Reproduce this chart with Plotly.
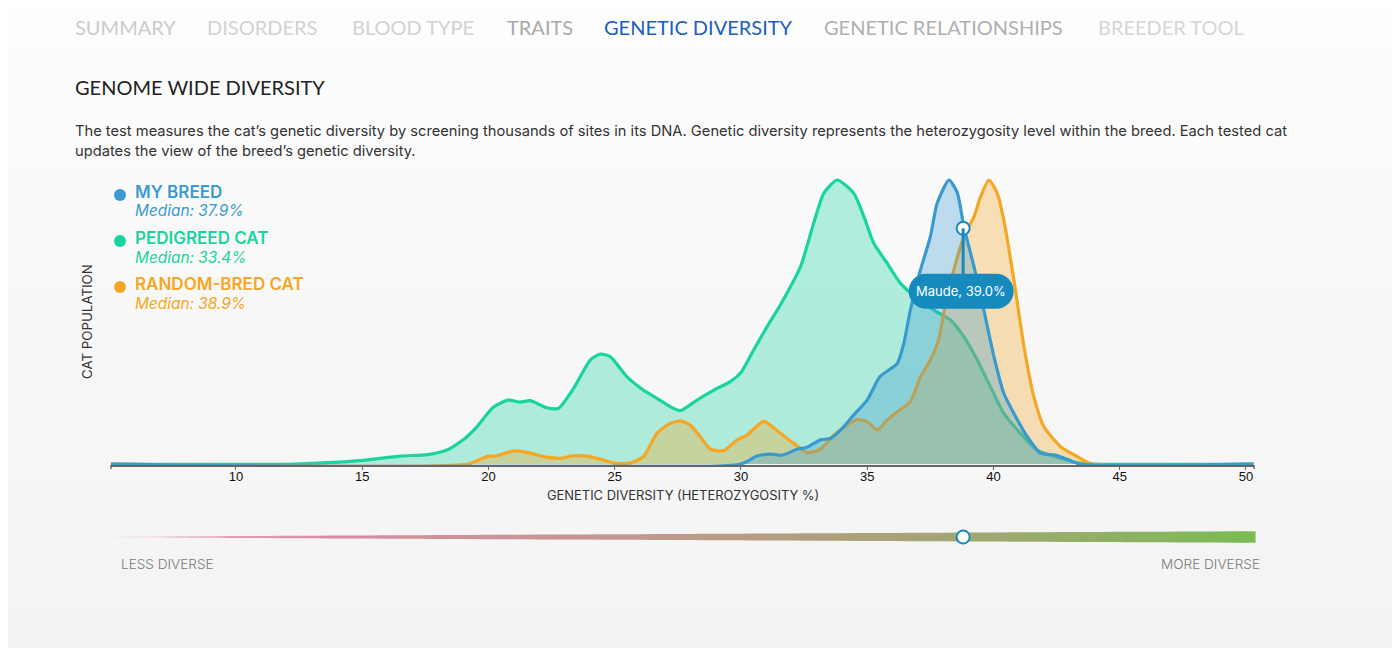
import plotly.graph_objects as go

# Genetic diversity (heterozygosity %) curves, normalised to peak = 1
MY_BREED_X = [5.05, 30.0, 30.63, 31.17, 31.63, 32.22, 32.62, 33.15, 33.54, 34.07, 34.47, 35.0,
              35.5, 36.19, 36.45, 36.71, 37.11, 37.5, 37.77, 38.24, 38.57, 38.83, 39.23, 39.62,
              40.02, 40.41, 40.81, 41.34, 41.87, 42.39, 42.92, 43.4, 50.3]
MY_BREED_Y = [0, 0, 0.028, 0.035, 0.031, 0.052, 0.059, 0.085, 0.09, 0.131, 0.173, 0.225,
              0.307, 0.354, 0.425, 0.542, 0.683, 0.8, 0.918, 1.0, 0.955, 0.835, 0.695, 0.542,
              0.378, 0.249, 0.178, 0.096, 0.038, 0.032, 0.017, 0, 0]

PEDIGREED_X = [5.05, 12.3, 14.9, 16.5, 17.6, 18.35, 19.0, 19.54, 20.19, 20.78, 21.26, 21.65,
               22.31, 22.77, 23.37, 24.03, 24.43, 24.82, 25.49, 26.14, 26.67, 27.2, 27.6, 28.26,
               29.05, 29.58, 30.0, 30.5, 31.03, 31.56, 32.36, 32.88, 33.28, 33.81, 34.47, 34.87,
               35.26, 35.79, 36.32, 36.98, 37.64, 38.3, 38.83, 39.36, 39.88, 40.41, 41.07, 41.73,
               42.66, 43.32, 44.0, 50.3]
PEDIGREED_Y = [0, 0, 0.012, 0.028, 0.033, 0.049, 0.085, 0.131, 0.2, 0.225, 0.218, 0.223,
               0.198, 0.196, 0.266, 0.366, 0.387, 0.378, 0.307, 0.26, 0.231, 0.202, 0.188, 0.225,
               0.266, 0.29, 0.322, 0.401, 0.483, 0.56, 0.695, 0.848, 0.953, 1.0, 0.953, 0.871,
               0.777, 0.707, 0.636, 0.583, 0.542, 0.507, 0.448, 0.366, 0.272, 0.178, 0.108, 0.049,
               0.02, 0.005, 0, 0]

RANDOM_X = [5.05, 19.2, 19.94, 20.33, 20.99, 21.52, 22.31, 22.84, 23.37, 23.9, 24.43, 24.96,
            25.6, 26.14, 26.67, 27.2, 27.6, 27.99, 28.39, 28.79, 29.32, 29.85, 30.24, 30.9,
            31.56, 32.09, 32.62, 33.15, 33.68, 34.21, 34.61, 35.0, 35.4, 35.79, 36.19, 36.71,
            37.11, 37.5, 37.83, 38.03, 38.43, 38.83, 39.23, 39.49, 39.82, 40.15, 40.41, 40.81,
            41.21, 41.6, 42.0, 42.66, 43.32, 43.9, 50.3]
RANDOM_Y = [0, 0, 0.026, 0.029, 0.046, 0.041, 0.024, 0.02, 0.029, 0.028, 0.017, 0.003,
            0.003, 0.026, 0.108, 0.143, 0.152, 0.137, 0.096, 0.052, 0.047, 0.085, 0.102, 0.15,
            0.108, 0.073, 0.04, 0.052, 0.102, 0.137, 0.157, 0.149, 0.12, 0.155, 0.184, 0.219,
            0.307, 0.366, 0.437, 0.531, 0.683, 0.8, 0.871, 0.941, 1.0, 0.953, 0.859, 0.648,
            0.413, 0.237, 0.131, 0.061, 0.026, 0, 0]

SERIES_NAMES = ["MY BREED", "PEDIGREED CAT", "RANDOM-BRED CAT"]
MEDIANS = [37.9, 33.4, 38.9]

CAT_NAME = "Maude"
CAT_VALUE = 39.0
CAT_X = 38.8
CAT_Y = 0.83

X_TICKS = [10, 15, 20, 25, 30, 35, 40, 45, 50]

NAV_ITEMS = ["SUMMARY", "DISORDERS", "BLOOD TYPE", "TRAITS", "GENETIC DIVERSITY",
             "GENETIC RELATIONSHIPS", "BREEDER TOOL"]

# styles
OFF = 8                              # page body margin
W, H = 1400 - OFF, 648 - OFF
BLUE, GREEN, ORANGE = "#3a9ad0", "#19d49e", "#f5a623"
BLUE_FILL, GREEN_FILL, ORANGE_FILL = "rgba(58,154,208,0.32)", "rgba(25,212,158,0.32)", "rgba(245,166,35,0.32)"
TIP_BLUE = "#1689bf"
X_RANGE = [5.05, 50.32]
Y_RANGE = [-0.004, 1.03]
PLOT_L, PLOT_R = 111, 1254          # plot area in page pixels
Y0_PX, Y1_PX = 464, 180             # page pixel rows of y=0 and y=1
FONT = "Inter"


def px(x):
    return PLOT_L + (x - X_RANGE[0]) / (X_RANGE[1] - X_RANGE[0]) * (PLOT_R - PLOT_L)


def py(y):
    return Y0_PX - y * (Y0_PX - Y1_PX)


def fx(p):
    return (p - OFF) / W


def fy(p):
    return 1 - (p - OFF) / H


def text(x, y, s, size, color, family=FONT, anchor="left", **kw):
    # annotations carry ~2px padding, pull left/right anchored text back
    shift = {"left": -2, "right": 2, "center": 0}[anchor]
    fig.add_annotation(xref="paper", yref="paper", x=fx(x + shift), y=fy(y), xanchor=anchor,
                       yanchor="middle", text=s, showarrow=False,
                       font=dict(family=family, size=size, color=color, **kw))


fig = go.Figure()

for xs, ys, line, fill in [(PEDIGREED_X, PEDIGREED_Y, GREEN, GREEN_FILL),
                           (RANDOM_X, RANDOM_Y, ORANGE, ORANGE_FILL),
                           (MY_BREED_X, MY_BREED_Y, BLUE, BLUE_FILL)]:
    fig.add_trace(go.Scatter(x=xs, y=ys, mode="lines", fill="tozeroy", fillcolor=fill,
                             line=dict(color=line, width=3.2, shape="spline", smoothing=0.6),
                             hoverinfo="skip", showlegend=False))

# cat marker with tooltip
tip_cx, tip_cy = px(CAT_X) - 2, py(CAT_Y) + 63
fig.add_shape(type="line", xref="paper", yref="paper",
              x0=fx(px(CAT_X)), x1=fx(px(CAT_X)), y0=fy(py(CAT_Y)), y1=fy(tip_cy),
              line=dict(color=TIP_BLUE, width=3))

w2, h2 = 52.5, 17.5
k = 0.5523 * h2
x0, x1, y0, y1 = tip_cx - w2 + h2, tip_cx + w2 - h2, tip_cy - h2, tip_cy + h2
pts = [("M", [(x0, y0)]), ("L", [(x1, y0)]),
       ("C", [(x1 + k, y0), (x1 + h2, tip_cy - k), (x1 + h2, tip_cy)]),
       ("C", [(x1 + h2, tip_cy + k), (x1 + k, y1), (x1, y1)]),
       ("L", [(x0, y1)]),
       ("C", [(x0 - k, y1), (x0 - h2, tip_cy + k), (x0 - h2, tip_cy)]),
       ("C", [(x0 - h2, tip_cy - k), (x0 - k, y0), (x0, y0)])]
path = " ".join(cmd + " " + " ".join(f"{fx(a):.5f},{fy(b):.5f}" for a, b in p) for cmd, p in pts) + " Z"
fig.add_shape(type="path", xref="paper", yref="paper", path=path,
              fillcolor=TIP_BLUE, line=dict(width=0))
text(tip_cx, tip_cy, f"{CAT_NAME}, {CAT_VALUE:.1f}%", 13, "white", anchor="center")

fig.add_trace(go.Scatter(x=[CAT_X], y=[CAT_Y], mode="markers", cliponaxis=False,
                         marker=dict(size=13, color="white", line=dict(color=TIP_BLUE, width=2)),
                         hoverinfo="skip", showlegend=False))

# background gradient
bands = 32
for i in range(bands):
    t = i / (bands - 1)
    c = round(253 - t * 10)
    fig.add_shape(type="rect", xref="paper", yref="paper", x0=0, x1=1,
                  y0=1 - (i + 1) / bands, y1=1 - i / bands + 0.001,
                  fillcolor=f"rgb({c},{c},{c})", line=dict(width=0), layer="below")

# axis outer ticks
for p in (PLOT_L, PLOT_R):
    fig.add_shape(type="line", xref="paper", yref="paper", x0=fx(p), x1=fx(p),
                  y0=fy(465), y1=fy(469), line=dict(color="#666", width=1.5))

# diversity slider
seg = 90
bar_l, bar_r, bar_y = 100, 1255, 537
stops = [(0.0, (235, 170, 190, 0.0)), (0.1, (222, 140, 165, 0.8)), (0.2, (216, 138, 162, 1)),
         (0.45, (195, 152, 145, 1)), (0.65, (172, 160, 122, 1)), (0.8, (155, 170, 112, 1)),
         (1.0, (122, 188, 84, 1))]


def grad(t):
    for (ta, ca), (tb, cb) in zip(stops, stops[1:]):
        if ta <= t <= tb:
            u = (t - ta) / (tb - ta)
            return tuple(ca[j] + (cb[j] - ca[j]) * u for j in range(4))
    return stops[-1][1]


for i in range(seg):
    ta, tb = i / seg, (i + 1) / seg
    pa, pb = bar_l + ta * (bar_r - bar_l), bar_l + tb * (bar_r - bar_l) + 0.6
    ha, hb = 0.3 + 5.5 * ta, 0.3 + 5.5 * tb
    r, g, b, a = grad((ta + tb) / 2)
    p = (f"M {fx(pa):.5f},{fy(bar_y - ha):.5f} L {fx(pb):.5f},{fy(bar_y - hb):.5f} "
         f"L {fx(pb):.5f},{fy(bar_y + hb):.5f} L {fx(pa):.5f},{fy(bar_y + ha):.5f} Z")
    fig.add_shape(type="path", xref="paper", yref="paper", path=p,
                  fillcolor=f"rgba({r:.0f},{g:.0f},{b:.0f},{a:.2f})", line=dict(width=0))

fig.add_shape(type="circle", xref="paper", yref="paper",
              x0=fx(px(CAT_X) - 6.5), x1=fx(px(CAT_X) + 6.5), y0=fy(bar_y + 6.5), y1=fy(bar_y - 6.5),
              fillcolor="white", line=dict(color=TIP_BLUE, width=2))

text(121, 564, "LESS DIVERSE", 13.6, "#7a7a7a", weight=300)
text(1260, 564, "MORE DIVERSE", 13.6, "#7a7a7a", anchor="right", weight=300)

# legend
for i, (name, med, col) in enumerate(zip(SERIES_NAMES, MEDIANS, [BLUE, GREEN, ORANGE])):
    top = 192 + i * 46
    fig.add_shape(type="circle", xref="paper", yref="paper",
                  x0=fx(114), x1=fx(126), y0=fy(top + 9), y1=fy(top - 3),
                  fillcolor=col, line=dict(width=0))
    text(135, top, name, 17, col, weight=600)
    text(135, top + 19, f"Median: {med}%", 15.4, col, style="italic")

# navigation
nav_x = [75, 207, 352, 507, 604, 824, 1098]
nav_col = ["#cbcbcb", "#d2d2d2", "#d2d2d2", "#a9a9a9", "#1a5fc0", "#b0b0b0", "#d6d6d6"]
for label, x, col in zip(NAV_ITEMS, nav_x, nav_col):
    text(x, 27, label, 20, col, family="Lato")

text(75, 87, "GENOME WIDE DIVERSITY", 20, "#222", family="Lato")
body = ["The test measures the cat’s genetic diversity by screening thousands of sites in its DNA. "
        "Genetic diversity represents the heterozygosity level within the breed. Each tested cat",
        "updates the view of the breed’s genetic diversity."]
for i, line in enumerate(body):
    text(75, 131 + i * 20, line, 14.7, "#333")

text(683, 495, "GENETIC DIVERSITY (HETEROZYGOSITY %)", 12.9, "#333", anchor="center")
fig.add_annotation(xref="paper", yref="paper", x=fx(87), y=fy(322), textangle=-90,
                   xanchor="center", yanchor="middle", text="CAT POPULATION", showarrow=False,
                   font=dict(family=FONT, size=13.3, color="#333"))

ydom = [fy(py(Y_RANGE[0])), fy(py(Y_RANGE[1]))]
fig.update_layout(
    width=W, height=H, margin=dict(l=0, r=0, t=0, b=0),
    paper_bgcolor="#f7f7f7", plot_bgcolor="rgba(0,0,0,0)",
    xaxis=dict(domain=[fx(PLOT_L), fx(PLOT_R)], range=X_RANGE, tickvals=X_TICKS,
               showgrid=False, zeroline=False, showline=True, linecolor="#666", linewidth=1.5,
               ticks="outside", ticklen=3, tickcolor="#666", tickwidth=1.2, ticklabelstandoff=-4,
               tickfont=dict(family="Liberation Sans", size=13, color="#111"), fixedrange=True),
    yaxis=dict(domain=ydom, range=Y_RANGE, showgrid=False, zeroline=False, showline=False,
               showticklabels=False, fixedrange=True),
    showlegend=False,
)

fig.write_html("out.html")
